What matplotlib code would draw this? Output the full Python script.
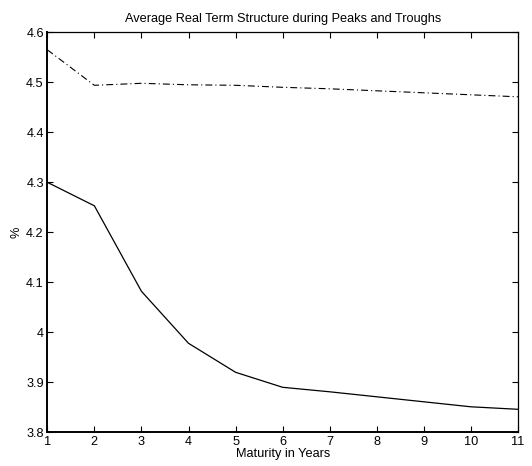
import matplotlib
matplotlib.use("Agg")
import matplotlib.pyplot as plt

plt.rcParams['font.family'] = ['Liberation Sans', 'DejaVu Sans']
plt.rcParams['lines.scale_dashes'] = False

maturity = [1, 2, 3, 4, 5, 6, 7, 8, 9, 10, 11]
troughs = [4.300, 4.253, 4.082, 3.978, 3.920, 3.890, 3.881, 3.871, 3.861, 3.851, 3.846]
peaks = [4.565, 4.494, 4.498, 4.495, 4.494, 4.490, 4.487, 4.483, 4.479, 4.475, 4.471]
xticks = [1, 2, 3, 4, 5, 6, 7, 8, 9, 10, 11]
yticks = [3.8, 3.9, 4.0, 4.1, 4.2, 4.3, 4.4, 4.5, 4.6]
yticklabels = ['3.8', '3.9', '4', '4.1', '4.2', '4.3', '4.4', '4.5', '4.6']

fig = plt.figure(figsize=(5.32, 4.66), dpi=100)
ax = fig.add_axes([47.3 / 532, 1 - 432.3 / 466, (518 - 47.3) / 532, (432.3 - 32.3) / 466])

ax.plot(maturity, troughs, color='black', linewidth=0.9, linestyle='-')
ax.plot(maturity, peaks, color='black', linewidth=0.8, linestyle=(0, (5.0, 2.2, 0.8, 2.2)))

ax.set_xlim(1, 11)
ax.set_ylim(3.8, 4.6)
ax.set_xticks(xticks)
ax.set_xticklabels([str(v) for v in xticks])
ax.set_yticks(yticks)
ax.set_yticklabels(yticklabels)
ax.tick_params(direction='in', length=4, width=0.8, top=True, right=True,
               labelsize=9.2, pad=2.5, colors='black')
for side in ['bottom', 'left']:
    ax.spines[side].set_linewidth(1.4)
for side in ['top', 'right']:
    ax.spines[side].set_linewidth(0.9)

ax.set_title('Average Real Term Structure during Peaks and Troughs', fontsize=9.2, pad=7.2)
ax.set_xlabel('Maturity in Years', fontsize=9.2, labelpad=0)
ax.set_ylabel('%', fontsize=9.2, labelpad=3)

fig.savefig('out.png', dpi=100)
